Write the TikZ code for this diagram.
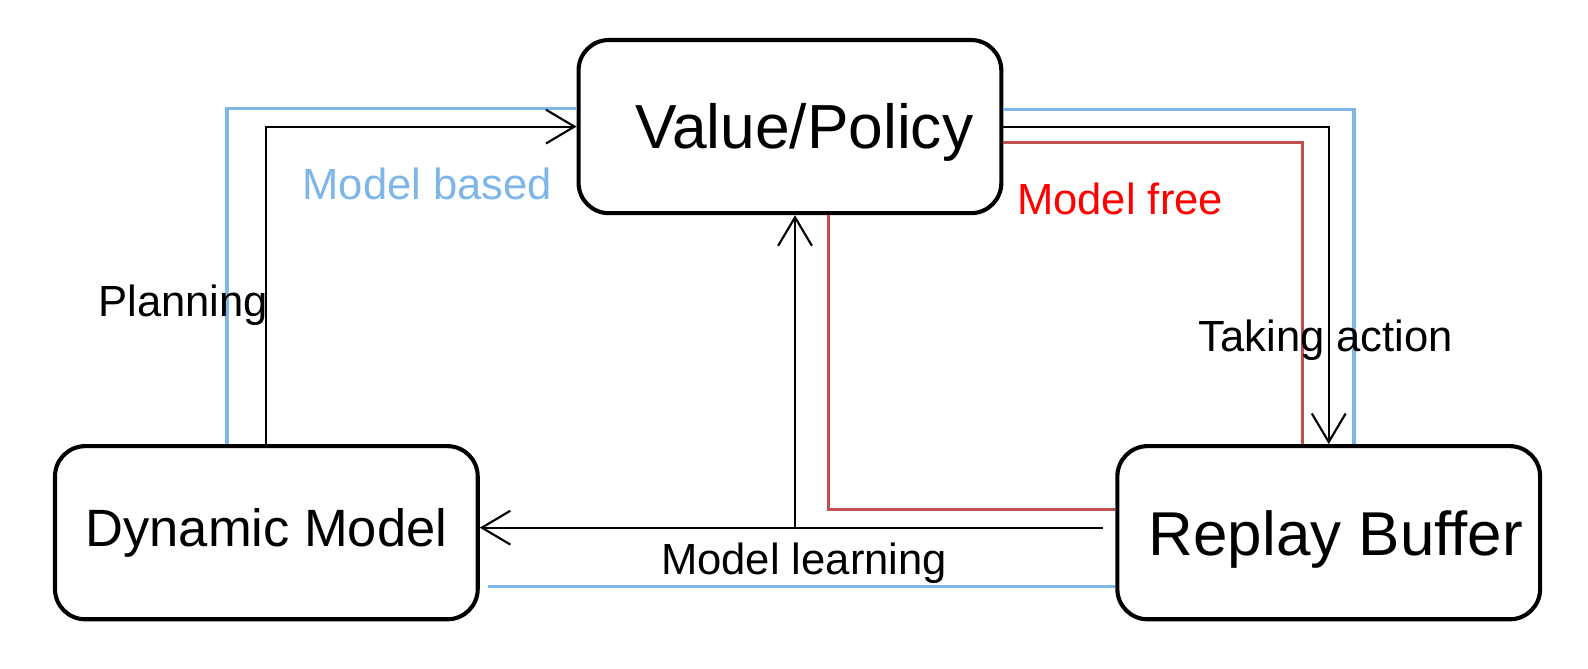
\documentclass[tikz,border=0pt]{standalone}
\usepackage{fontspec}
\setmainfont{Liberation Sans}
\usetikzlibrary{arrows.meta,calc}
\definecolor{mbblue}{HTML}{7EB6EA}
\definecolor{mfred}{HTML}{C0504D}
\begin{document}
\begin{tikzpicture}[x=0.02cm,y=-0.02cm,
    box/.style={draw,line width=2.3pt,rounded corners=17pt,minimum width=8.35cm,minimum height=3.42cm,inner sep=0pt},
    arr/.style={line width=1.2pt,-{Straight Barb[length=16pt,width=19pt,line width=1.2pt]}},
    bline/.style={mbblue,line width=1.9pt},
    rline/.style={mfred,line width=1.9pt},
    lbl/.style={font=\fontsize{24.5}{28}\selectfont}]
    \useasboundingbox (0,0) rectangle (1568,659.6);
    \node[box,font=\fontsize{35}{40}\selectfont] (vp) at (780,125) {\hspace*{16pt}\raisebox{-3pt}[\height][\depth]{Value/Policy}};
    \node[box,font=\fontsize{29.5}{34}\selectfont] (dyn) at (263,526) {Dynamic Model};
    \node[box,font=\fontsize{34.8}{40}\selectfont] (rb) at (1312,526) {\hspace*{8pt}\raisebox{-4pt}[\height][\depth]{Replay Buffer}};

    \draw[bline] ($(dyn.north)+(-39,0)$) |- ($(vp.west)+(0,-18)$);
    \draw[bline] ($(vp.east)+(0,-17)$) -| ($(rb.north)+(25,0)$);
    \draw[bline] ($(dyn.east)+(8,53)$) -- ($(rb.west)+(0,53)$);
    \draw[rline] ($(vp.east)+(0,16)$) -| ($(rb.north)+(-26,0)$);
    \draw[rline] ($(vp.south)+(38,0)$) |- ($(rb.west)+(0,-23)$);

    \draw[arr] (dyn.north) |- (vp.west);
    \draw[arr] (vp.east) -| (rb.north);
    \coordinate (ml) at (785,521);
    \draw[arr] ($(rb.west)+(-12,-5)$) -- ($(dyn.east)+(0,-5)$);
    \draw[arr] (ml) -- (ml |- vp.south);

    \node[lbl,mbblue] (based) at (422,182) {Model based};
    \node[lbl,red] (free) at (1106,196) {Model free};
    \node[lbl] (plan) at (181,301) {Planning};
    \node[lbl] (act) at (1309,336) {Taking action};
    \node[lbl] (learn) at (794,556) {Model learning};
\end{tikzpicture}
\end{document}
